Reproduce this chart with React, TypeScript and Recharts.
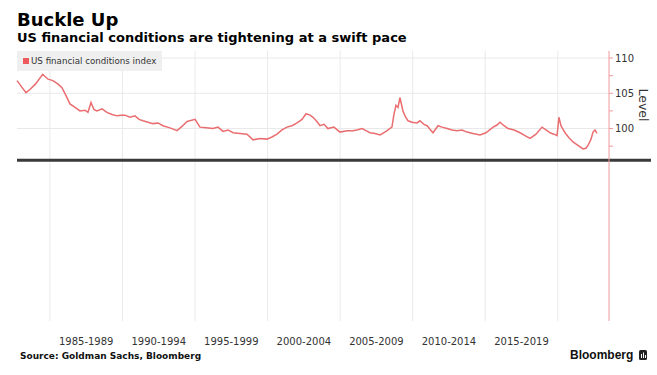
import { LineChart, Line, XAxis, YAxis, ReferenceLine, Legend } from "recharts";

// decimal year / index level
const years = [
  1982.73, 1983.35, 1983.6, 1984.0, 1984.5, 1984.87, 1985.21, 1985.56, 1985.83, 1986.1,
  1986.38, 1986.73, 1987.07, 1987.42, 1987.62, 1987.83, 1988.03, 1988.24, 1988.59, 1988.93,
  1989.28, 1989.62, 1989.9, 1990.17, 1990.52, 1990.86, 1991.14, 1991.41, 1991.76, 1992.1,
  1992.45, 1992.79, 1993.27, 1993.76, 1994.1, 1994.45, 1995.0, 1995.34, 1995.76, 1996.24,
  1996.58, 1996.93, 1997.27, 1997.62, 1998.1, 1998.58, 1999.0, 1999.48, 1999.96, 2000.3,
  2000.65, 2000.99, 2001.34, 2001.68, 2002.03, 2002.37, 2002.65, 2002.92, 2003.13, 2003.4,
  2003.61, 2003.89, 2004.16, 2004.57, 2004.99, 2005.47, 2005.89, 2006.16, 2006.51, 2006.78,
  2007.06, 2007.4, 2007.75, 2008.16, 2008.57, 2008.71, 2008.85, 2008.99, 2009.12, 2009.33,
  2009.47, 2009.68, 2009.95, 2010.3, 2010.5, 2010.78, 2010.99, 2011.19, 2011.4, 2011.75,
  2012.02, 2012.37, 2012.71, 2013.05, 2013.4, 2013.74, 2014.16, 2014.64, 2015.05, 2015.54,
  2015.81, 2016.02, 2016.3, 2016.57, 2016.99, 2017.4, 2017.74, 2018.09, 2018.5, 2018.91,
  2019.19, 2019.47, 2019.74, 2019.95, 2020.08, 2020.22, 2020.5, 2020.77, 2021.05, 2021.39,
  2021.74, 2021.94, 2022.08, 2022.29, 2022.43, 2022.56, 2022.7,
];
const fci = [
  106.8, 105.1, 105.5, 106.3, 107.7, 107.0, 106.8, 106.3, 105.8, 104.7,
  103.5, 103.0, 102.5, 102.6, 102.3, 103.7, 102.7, 102.5, 102.8, 102.3,
  102.0, 101.8, 101.9, 101.9, 101.6, 101.8, 101.3, 101.1, 100.9, 100.7,
  100.8, 100.4, 100.1, 99.7, 100.3, 101.0, 101.3, 100.2, 100.1, 100.0,
  100.2, 99.6, 99.8, 99.4, 99.3, 99.2, 98.4, 98.6, 98.5, 98.8,
  99.2, 99.8, 100.2, 100.4, 100.8, 101.3, 102.1, 101.9, 101.6, 101.0,
  100.4, 100.6, 100.0, 100.2, 99.5, 99.7, 99.7, 99.8, 100.0, 99.7,
  99.4, 99.3, 99.1, 99.6, 100.2, 102.0, 103.3, 103.0, 104.4, 102.5,
  101.8, 101.1, 100.9, 100.8, 101.1, 100.6, 100.4, 99.9, 99.4, 100.4,
  100.2, 100.0, 99.8, 99.7, 99.8, 99.5, 99.3, 99.1, 99.4, 100.2,
  100.5, 100.9, 100.4, 100.0, 99.8, 99.4, 99.0, 98.6, 99.2, 100.2,
  99.8, 99.4, 99.2, 99.0, 101.6, 100.4, 99.4, 98.7, 98.1, 97.6,
  97.1, 97.2, 97.6, 98.5, 99.5, 99.8, 99.3,
];

const periods = ["1985-1989", "1990-1994", "1995-1999", "2000-2004", "2005-2009", "2010-2014", "2015-2019"];
const periodStarts = [1985, 1990, 1995, 2000, 2005, 2010, 2015];
const gridYears = [1985, 1990, 1995, 2000, 2005, 2010, 2015, 2020];
const yTicks = [97.5, 100, 102.5, 105, 107.5, 110];
const gridLevels = [100, 105, 110];
const baseLevel = 95.5;

const data = years.map((t, i) => ({ t, fci: fci[i] }));
const periodMids = periodStarts.map((s) => s + 2.5);

const RED = "#ea6d70";

const LegendBox = () => (
  <div
    style={{
      background: "#efefef",
      width: 145,
      height: 20,
      display: "flex",
      alignItems: "center",
      fontSize: 8.7,
      color: "#333",
      fontFamily: "DejaVu Sans",
    }}
  >
    <span style={{ width: 6, height: 6, background: "#ec5a5c", marginLeft: 6, marginRight: 2 }} />
    US financial conditions index
  </div>
);

// heavy base rule, runs on past the right axis like the original
const BaseRule = (p: any) => {
  const left = Math.min(p.x1, p.x2);
  const right = Math.max(p.x1, p.x2);
  return <line x1={left} y1={p.y1} x2={right + 42} y2={p.y2} stroke="#3a3a3a" strokeWidth={3} />;
};

export default function App() {
  return (
    <div style={{ position: "absolute", left: 0, top: 0, width: 657, height: 375, background: "#fff", fontFamily: "DejaVu Sans" }}>
      <LineChart width={657} height={375} data={data} margin={{ top: 51, right: 0, left: 17, bottom: 0 }}>
        <XAxis
          dataKey="t"
          type="number"
          domain={[1982.73, 2023.53]}
          ticks={periodMids}
          tickFormatter={(v) => periods[periodMids.indexOf(v)] ?? ""}
          axisLine={false}
          tickLine={false}
          tickMargin={11}
          height={54}
          tick={{ fontSize: 10, fill: "#333" }}
          interval={0}
        />
        <YAxis
          orientation="right"
          domain={[72.7, 111]}
          ticks={yTicks}
          tickFormatter={(v) => (v % 5 === 0 ? String(v) : "")}
          width={48}
          axisLine={{ stroke: "#f29a9a" }}
          tickLine={{ stroke: "#f29a9a" }}
          tickSize={4}
          tickMargin={2}
          tick={{ fontSize: 10, fill: "#333" }}
          interval={0}
          label={{
            content: (p: any) => {
              const x = p.viewBox.x + 34;
              const y = p.viewBox.y + 54;
              return (
                <text x={x} y={y} transform={`rotate(90 ${x} ${y})`} textAnchor="middle" dominantBaseline="central" fontSize={12.5} fill="#333">
                  Level
                </text>
              );
            },
          }}
        />
        {gridYears.map((g) => (
          <ReferenceLine key={"x" + g} x={g} stroke="#e9e9e9" strokeWidth={1} />
        ))}
        {gridLevels.map((g) => (
          <ReferenceLine key={"y" + g} y={g} stroke="#e9e9e9" strokeWidth={1} />
        ))}
        <ReferenceLine y={baseLevel} shape={BaseRule} />
        <Legend layout="horizontal" verticalAlign="middle" align="center" wrapperStyle={{ top: 51, left: 17, width: 145, height: 20 }} content={() => <LegendBox />} />
        <Line type="linear" dataKey="fci" stroke={RED} strokeWidth={1.5} dot={false} isAnimationActive={false} />
      </LineChart>
      <svg width={657} height={375} style={{ position: "absolute", left: 0, top: 0, pointerEvents: "none" }}>
        <text x={17} y={26} fontFamily="DejaVu Sans" fontWeight="bold" fontSize={18} fill="#000">
          Buckle Up
        </text>
        <text x={17} y={42.3} fontFamily="DejaVu Sans" fontWeight="bold" fontSize={13} fill="#000">
          US financial conditions are tightening at a swift pace
        </text>
        <text x={20} y={359} fontFamily="DejaVu Sans" fontWeight="bold" fontSize={9} fill="#111">
          Source: Goldman Sachs, Bloomberg
        </text>
        <text x={570} y={359} fontFamily="Liberation Sans" fontWeight="bold" fontSize={12} fill="#111">
          Bloomberg
        </text>
        <rect x={639} y={350} width={8} height={10} rx={1.5} fill="#222" />
        <rect x={641} y={354} width={1} height={4} fill="#fff" />
        <rect x={643} y={352.5} width={1} height={5.5} fill="#fff" />
        <rect x={645} y={355} width={1} height={3} fill="#fff" />
      </svg>
    </div>
  );
}
